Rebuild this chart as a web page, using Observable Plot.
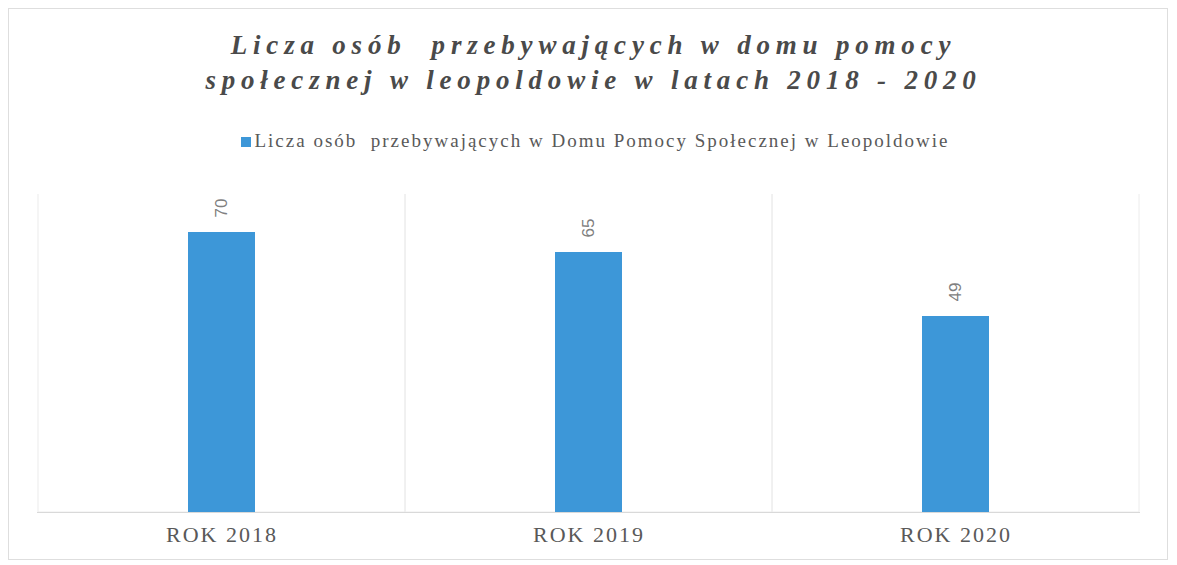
<!DOCTYPE html>
<html><head><meta charset="utf-8">
<script src="https://cdn.jsdelivr.net/npm/d3@7"></script>
<script src="https://cdn.jsdelivr.net/npm/@observablehq/plot@0.6"></script>
<style>
html,body{margin:0;padding:0;background:#fff;}
body{width:1177px;height:565px;position:relative;overflow:hidden;}
#border{position:absolute;left:8px;top:8px;width:1160px;height:552px;border:1px solid #dedede;box-sizing:border-box;}
#title{position:absolute;left:0;top:28px;width:1177px;padding-left:10px;box-sizing:border-box;text-align:center;font-family:"Liberation Serif",serif;font-style:italic;font-weight:bold;font-size:27px;line-height:35px;letter-spacing:5.8px;color:#4a4a4a;white-space:pre;}
#legend{position:absolute;left:0;top:130px;width:1177px;padding-left:14px;box-sizing:border-box;text-align:center;font-family:"Liberation Serif",serif;font-size:19px;color:#595959;white-space:pre;letter-spacing:2px;}
#legend .sw{display:inline-block;width:10px;height:10px;margin-right:3px;}
#chart{position:absolute;left:0;top:170px;}
#chart g[aria-label="x-axis tick label"]{letter-spacing:2px;}
</style></head>
<body>
<div id="border"></div>
<div id="title"></div>
<div id="legend"></div>
<div id="chart"></div>
<script>
const titleLines = ["Licza osób  przebywających w domu pomocy", "społecznej w leopoldowie w latach 2018 - 2020"];
const seriesName = "Licza osób  przebywających w Domu Pomocy Społecznej w Leopoldowie";
const years = ["ROK 2018", "ROK 2019", "ROK 2020"];
const values = [70, 65, 49];
const barColor = "#3d97d8";

const data = years.map((k, i) => ({k, v: values[i]}));

document.getElementById("title").textContent = titleLines.join("\n");
const lg = document.getElementById("legend");
const sw = document.createElement("span");
sw.className = "sw";
sw.style.background = barColor;
lg.appendChild(sw);
lg.appendChild(document.createTextNode(seriesName));

const chart = Plot.plot({
  width: 1177, height: 395,
  marginTop: 22, marginBottom: 53, marginLeft: 37, marginRight: 37,
  style: {fontFamily: "'Liberation Serif', serif", background: "transparent"},
  x: {type: "band", domain: years, padding: 0, label: null},
  y: {domain: [0, 80], axis: null},
  marks: [
    Plot.barY(years, {x: d => d, y1: 0, y2: 80, fill: "none", stroke: "#ececec"}),
    Plot.ruleY([80], {stroke: "white", strokeWidth: 3}),
    Plot.ruleY([0], {stroke: "#d9d9d9"}),
    Plot.barY(data, {x: "k", y: "v", fill: barColor, insetLeft: 150, insetRight: 150}),
    Plot.text(data, {x: "k", y: "v", text: d => String(d.v), rotate: -90, textAnchor: "start", lineAnchor: "middle", dy: -15, fontSize: 17, fill: "#808080", fontFamily: "'Liberation Sans', sans-serif"}),
    Plot.axisX({tickSize: 0, tickPadding: 14, fontSize: 22, fill: "#595959", label: null})
  ]
});
document.getElementById("chart").appendChild(chart);
</script>
</body></html>
